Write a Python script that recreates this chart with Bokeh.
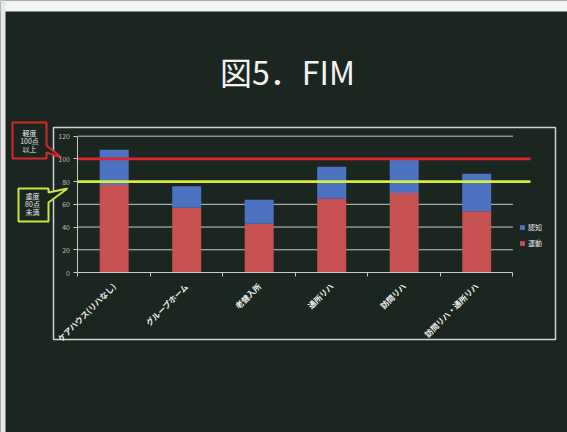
import math
from bokeh.plotting import figure
from bokeh.models import (Range1d, LinearAxis, FixedTicker, Legend, LegendItem,
                          ColumnDataSource, Label)
from bokeh.core.properties import value
from bokeh.embed import file_html
from bokeh.resources import INLINE

# ---- data ----
categories = ["ケアハウス(リハなし)", "グループホーム", "老健入所", "通所リハ", "訪問リハ", "訪問リハ・通所リハ"]
motor = [77, 57, 43, 65, 70, 54]          # 運動
cognitive = [31, 19, 21, 28, 30, 33]      # 認知
y_ticks = [0, 20, 40, 60, 80, 100, 120]
thresholds = [100, 80]                     # 軽度 100点以上 / 重度 80点未満
callout_red = ["軽度", "100点", "以上"]
callout_yellow = ["重度", "80点", "未満"]
title_text = "図5．FIM"

# ---- layout mapping (pixel -> data) ----
W, H = 567, 432
X0, DX = 113.7, 72.5      # pixel of first category center, px per category
Y0, DY = 272.0, 1.136     # pixel of value 0 (from top), px per unit


def X(px):
    return (px - X0) / DX


def Y(py):
    return (Y0 - py) / DY


BG = "#1b2621"
FONT = "Noto Sans CJK JP"

p = figure(width=W, height=H, output_backend="svg", toolbar_location=None,
           x_range=Range1d(X(0), X(W)), y_range=Range1d(Y(H), Y(0)),
           x_axis_type=None, y_axis_type=None, min_border=0,
           background_fill_color=BG, border_fill_color=BG, outline_line_color=None)
p.xgrid.visible = False
p.ygrid.visible = False

# slide edges (white band at top, left strip)
p.quad(left=X(0), right=X(W), top=Y(0), bottom=Y(11), fill_color="#f4f4f4", line_color=None)
p.quad(left=X(0), right=X(5), top=Y(0), bottom=Y(H), fill_color="#e8e8e8", line_color=None)

# chart outer frame
p.quad(left=X(53), right=X(555), top=Y(127), bottom=Y(339), fill_color=None,
       line_color="#d2d2d2", line_width=1.5)

n = len(categories)
xs = list(range(n))

# gridlines
grid_vals = [t for t in y_ticks if t > 0]
p.segment(x0=[-0.5] * len(grid_vals), x1=[n - 0.5] * len(grid_vals), y0=grid_vals, y1=grid_vals,
          line_color="#c9c9c9", line_width=1)

# stacked bars
src = ColumnDataSource(dict(x=xs, motor=motor, cognitive=cognitive))
rs = p.vbar_stack(["motor", "cognitive"], x="x", width=0.40, source=src,
                  color=["#c65150", "#4b73c1"], line_color=None)

# threshold lines
line_colors = ["#e3232b", "#d6ec3c"]
for t, c in zip(thresholds, line_colors):
    p.segment(x0=-0.5, x1=X(530), y0=t, y1=t, line_color=c, line_width=2.6)

# axes
yax = LinearAxis(fixed_location=-0.5, bounds=(0, 120), ticker=FixedTicker(ticks=y_ticks, minor_ticks=[]))
yax.axis_line_color = "#c9c9c9"
yax.major_tick_line_color = "#c9c9c9"
yax.major_tick_out = 4
yax.major_tick_in = 0
yax.minor_tick_line_color = None
yax.major_label_text_color = "#bdbdbd"
yax.major_label_text_font = FONT
yax.major_label_text_font_size = "7px"
yax.major_label_standoff = 4
p.add_layout(yax, "left")

xax = LinearAxis(fixed_location=0, bounds=(-0.5, n - 0.5),
                 ticker=FixedTicker(ticks=xs, minor_ticks=[i - 0.5 for i in range(n + 1)]))
xax.axis_line_color = "#c9c9c9"
xax.major_tick_line_color = None
xax.minor_tick_line_color = "#c9c9c9"
xax.minor_tick_out = 4
xax.minor_tick_in = 0
xax.major_label_overrides = {i: c for i, c in enumerate(categories)}
xax.major_label_orientation = math.pi / 4
xax.major_label_text_color = "#f0f0f0"
xax.major_label_text_font = FONT
xax.major_label_text_font_style = "bold"
xax.major_label_text_font_size = "8px"
xax.major_label_standoff = 6
p.add_layout(xax, "below")

# title
p.add_layout(Label(x=X(287), y=Y(70), text=title_text, text_align="center", text_baseline="middle",
                   text_color="#f2f2f2", text_font=FONT, text_font_size="32px"))

# callouts
red_poly = [(12, 122), (46, 122), (46, 145), (61, 157), (46, 152), (46, 158), (12, 158)]
yel_poly = [(18, 188), (48, 188), (48, 192), (67, 188), (48, 202), (48, 221), (18, 221)]
p.patch([X(a) for a, b in red_poly], [Y(b) for a, b in red_poly], fill_color=BG,
        line_color="#d42a2a", line_width=2)
p.patch([X(a) for a, b in yel_poly], [Y(b) for a, b in yel_poly], fill_color=BG,
        line_color="#cde443", line_width=2)
p.text(x=[X(29)] * 3, y=[Y(132), Y(140), Y(148)], text=callout_red, text_align="center",
       text_baseline="middle", text_color="#e6e6e6", text_font=value(FONT), text_font_size="7px")
p.text(x=[X(32)] * 3, y=[Y(195), Y(203), Y(211)], text=callout_yellow, text_align="center",
       text_baseline="middle", text_color="#e6e6e6", text_font=value(FONT), text_font_size="7px")

# legend
legend = Legend(items=[LegendItem(label="認知", renderers=[rs[1]]),
                       LegendItem(label="運動", renderers=[rs[0]])],
                location=(519, H - 248), orientation="vertical",
                glyph_width=6, glyph_height=6, label_height=8, spacing=6, padding=0, margin=0,
                label_standoff=3, label_text_font=FONT, label_text_font_size="7px",
                label_text_color="#e6e6e6", background_fill_alpha=0, border_line_color=None)
p.add_layout(legend, "center")

open("out.html", "w").write(file_html(p, INLINE))
